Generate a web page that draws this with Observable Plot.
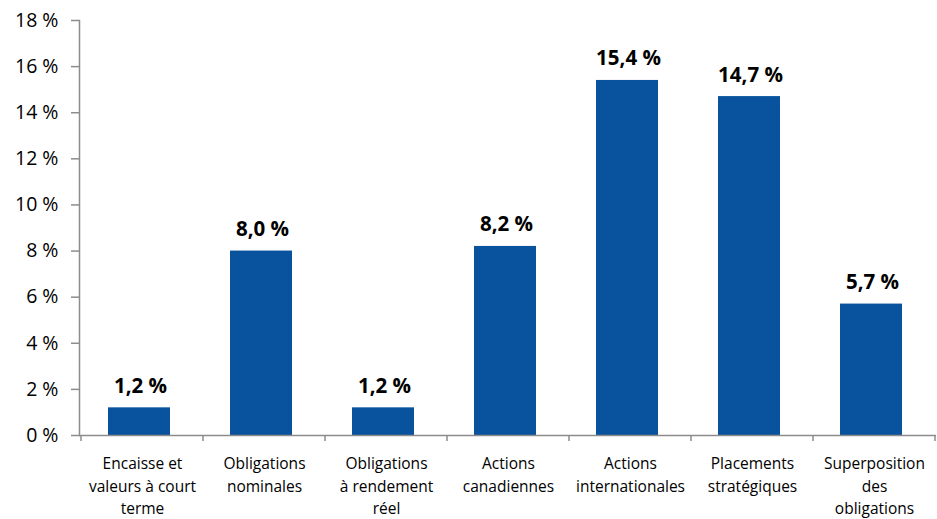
<!DOCTYPE html>
<html>
<head>
<meta charset="utf-8">
<script src="https://cdn.jsdelivr.net/npm/d3@7"></script>
<script src="https://cdn.jsdelivr.net/npm/@observablehq/plot@0.6"></script>
<style>
  html, body { margin: 0; padding: 0; background: #fff; }
  #chart svg { display: block; }
</style>
</head>
<body>
<div id="chart"></div>
<script>
const categories = [
  "Encaisse et\nvaleurs à court\nterme",
  "Obligations\nnominales",
  "Obligations\nà rendement\nréel",
  "Actions\ncanadiennes",
  "Actions\ninternationales",
  "Placements\nstratégiques",
  "Superposition\ndes\nobligations"
];
const values = [1.2, 8.0, 1.2, 8.2, 15.4, 14.7, 5.7];
const yTicks = [0, 2, 4, 6, 8, 10, 12, 14, 16, 18];

const data = categories.map((c, i) => ({category: c, value: values[i]}));
const fmt = v => v.toFixed(1).replace(".", ",") + " %";
const axisColor = "#8c8c8c";
const font = "Open Sans, sans-serif";

const boundaryTicks = (index, scales, values, dims, context) => {
  const x = scales.x, bw = x.bandwidth();
  const y0 = dims.height - dims.marginBottom;
  const g = d3.create("svg:g");
  const xs = [x(categories[0])].concat(categories.map(c => x(c) + bw));
  for (const px of xs) {
    g.append("line").attr("x1", px).attr("x2", px)
      .attr("y1", y0).attr("y2", y0 + 6)
      .attr("stroke", axisColor).attr("stroke-width", 1.5);
  }
  return g.node();
};

const chart = Plot.plot({
  width: 937,
  height: 519,
  marginLeft: 79,
  marginRight: 1,
  marginTop: 20,
  marginBottom: 84,
  style: {fontFamily: font, background: "#fff", color: "#000"},
  x: {domain: categories, padding: 0, label: null},
  y: {domain: [0, 18], label: null},
  marks: [
    Plot.barY(data, {x: "category", y: "value", fill: "#08529e", insetLeft: 27, insetRight: 33}),
    Plot.ruleY([0], {stroke: axisColor, strokeWidth: 1.5}),
    Plot.frame({anchor: "left", stroke: axisColor, strokeWidth: 1.5}),
    Plot.axisY({ticks: yTicks, tickFormat: d => d + " %", tickSize: 8, tickPadding: 13,
      stroke: axisColor, strokeWidth: 1.5, fontSize: 19.5, fill: "#000"}),
    Plot.axisX({tickSize: 0, tickPadding: 18, fontSize: 15.5, lineHeight: 1.45, fill: "#000", lineAnchor: "top"}),
    boundaryTicks,
    Plot.text(data, {x: "category", y: "value", text: d => fmt(d.value), dx: -2, dy: -15, lineAnchor: "bottom",
      fontSize: 20.5, fontWeight: "bold", fill: "#000"})
  ]
});
document.getElementById("chart").appendChild(chart);
</script>
</body>
</html>
